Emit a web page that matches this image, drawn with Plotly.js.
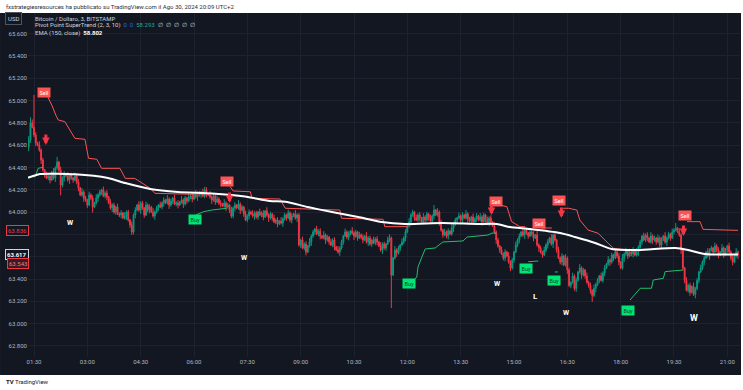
<!DOCTYPE html>
<html><head><meta charset="utf-8">
<script src="https://cdn.plot.ly/plotly-3.0.1.min.js"></script>
<style>html,body{margin:0;padding:0;background:#fff;}#chart{width:743px;height:390px;}</style>
</head><body><div id="chart"></div>
<script>
const dayDate = '2024-08-30';
const firstBar = '01:21';
const barMinutes = 3;

const open = [
64580,64646,64800,64760,64690,64620,64600,64556,64466,64377,
64332,64305,64323,64287,64359,64305,64395,64448,64377,64242,
64305,64341,64323,64287,64332,64305,64287,64323,64269,64216,
64153,64180,64126,64108,64063,64153,64126,64045,64081,64126,
64153,64180,64198,64144,64171,64135,64081,64036,64063,64000,
64045,63983,63974,63992,63947,63965,64000,63929,63884,63821,
63974,64018,64063,64018,64081,64036,63974,64063,64018,64045,
64000,63965,64000,64036,64063,64045,64081,64108,64081,64117,
64063,64099,64126,64072,64081,64063,64090,64108,64072,64126,
64099,64135,64144,64117,64162,64135,64171,64153,64180,64144,
64198,64162,64153,64135,64108,64144,64090,64117,64081,64072,
64054,64081,64045,64063,64018,63965,64036,64063,64036,64072,
64018,64045,63983,63929,63965,64000,63983,63965,63992,63956,
64000,63974,63992,63956,64009,63974,63947,63983,63947,63911,
63929,63893,63920,63902,63938,63974,63947,63992,63929,63965,
63983,63947,63974,63705,63750,63678,63714,63642,63696,63732,
63785,63821,63848,63803,63830,63785,63768,63794,63750,63776,
63732,63705,63750,63687,63660,63642,63678,63732,63785,63821,
63776,63803,63830,63812,63785,63821,63768,63794,63776,63750,
63785,63732,63768,63714,63750,63723,63759,63732,63696,63660,
63714,63678,63714,63750,63768,63436,63588,63660,63633,63678,
63705,63732,63768,63821,63875,63911,63974,64000,63947,63929,
63974,63947,63911,63956,63929,63983,63947,63920,63965,64018,
63974,64000,63911,63839,63794,63821,63785,63830,63803,63857,
63893,63929,63947,63965,63929,63974,63947,63983,63938,63920,
63956,63911,63938,63965,63929,63956,63911,63974,63929,63893,
63947,63911,63875,63821,63750,63696,63660,63624,63588,63642,
63606,63552,63499,63570,63642,63705,63750,63785,63821,63794,
63839,63812,63785,63821,63803,63768,63794,63705,63678,63642,
63615,63660,63705,63732,63768,63714,63794,63750,63660,63588,
63552,63606,63526,63588,63481,63342,63369,63427,63315,63387,
63463,63499,63436,63481,63427,63369,63342,63298,63253,63315,
63351,63387,63427,63387,63454,63499,63535,63570,63552,63615,
63588,63642,63606,63552,63499,63588,63624,63660,63606,63642,
63624,63660,63615,63642,63687,63732,63785,63750,63794,63768,
63732,63785,63750,63768,63732,63768,63705,63750,63785,63732,
63768,63803,63768,63821,63839,63857,63821,63794,63660,63499,
63387,63298,63342,63280,63333,63262,63315,63387,63463,63499,
63552,63588,63642,63606,63660,63678,63642,63696,63660,63615,
63642,63678,63624,63660,63696,63642,63588,63552,63606,63642];

const high = [
64680,64850,64830,65050,64715,64630,64635,64571,64486,64387,
64362,64338,64348,64369,64394,64410,64495,64458,64407,64320,
64366,64351,64358,64347,64352,64315,64353,64338,64294,64226,
64215,64195,64146,64118,64183,64168,64151,64091,64161,64168,
64200,64208,64228,64186,64196,64145,64116,64078,64083,64055,
64075,63998,64017,64002,64000,64015,64020,63939,63914,63989,
64043,64073,64098,64096,64101,64046,64093,64078,64070,64055,
64035,64015,64056,64073,64093,64096,64133,64118,64152,64132,
64119,64136,64156,64096,64106,64100,64143,64123,64146,64136,
64165,64159,64169,64172,64197,64186,64191,64190,64210,64225,
64223,64172,64188,64150,64164,64154,64147,64132,64106,64082,
64116,64096,64083,64073,64048,64051,64088,64073,64107,64087,
64065,64055,64013,63980,64025,64010,64018,64007,64012,64010,
64030,64007,64017,64019,64044,63989,64003,63993,63977,63944,
63954,63930,63955,63953,63994,63984,64022,64007,63990,63993,
64018,63989,63990,63760,63780,63729,63739,63706,63767,63800,
63841,63858,63878,63845,63855,63795,63829,63809,63796,63786,
63762,63765,63775,63697,63695,63693,63752,63795,63851,63836,
63828,63840,63865,63827,63841,63831,63824,63809,63801,63795,
63820,63783,63788,63760,63780,63774,63784,63742,63731,63729,
63734,63724,63780,63800,63780,63598,63695,63675,63698,63715,
63762,63783,63846,63885,63946,63989,64020,64010,63977,63989,
63999,63957,63991,63971,64003,63993,63977,63980,64063,64028,
64035,64015,63931,63849,63851,63836,63855,63840,63892,63908,
63949,63957,63995,63980,63999,63984,64018,63998,63958,63966,
63986,63953,63990,63975,63991,63971,63994,63984,63959,63962,
63972,63921,63910,63836,63770,63706,63690,63639,63667,63652,
63641,63567,63590,63652,63735,63765,63810,63831,63856,63854,
63859,63822,63851,63836,63828,63804,63829,63720,63698,63652,
63690,63720,63757,63778,63803,63809,63814,63760,63690,63603,
63631,63616,63623,63603,63501,63379,63457,63442,63412,63473,
63534,63514,63501,63491,63457,63384,63367,63308,63350,63366,
63407,63437,63457,63469,63524,63545,63605,63585,63635,63625,
63672,63657,63631,63562,63623,63639,63680,63670,63672,63657,
63685,63670,63677,63702,63752,63795,63815,63809,63819,63778,
63820,63800,63788,63778,63798,63783,63775,63795,63820,63783,
63823,63813,63851,63854,63902,63867,63856,63809,63680,63509,
63417,63357,63367,63343,63368,63330,63407,63473,63529,63567,
63613,63652,63677,63675,63698,63688,63726,63711,63685,63652,
63713,63693,63680,63706,63726,63657,63613,63616,63677,63657];

const low = [
64545,64621,64750,64670,64590,64590,64541,64431,64362,64307,
64295,64285,64257,64277,64290,64270,64380,64352,64150,64222,
64275,64313,64272,64252,64290,64262,64277,64249,64186,64143,
64138,64091,64093,64038,64053,64106,63995,64035,64066,64091,
64138,64155,64134,64124,64105,64071,64021,64001,63985,63975,
63973,63954,63944,63937,63932,63930,63914,63859,63795,63801,
63944,64008,64003,63983,64021,63949,63964,63998,63988,63990,
63950,63930,63985,64011,64035,64025,64051,64071,64066,64028,
64048,64074,64062,64052,64033,64053,64075,64037,64057,64074,
64089,64115,64087,64107,64120,64100,64138,64128,64134,64124,
64132,64143,64120,64073,64093,64065,64080,64061,64042,64044,
64039,64010,64030,63993,63945,63945,64006,64026,64021,63983,
64003,63958,63919,63909,63935,63973,63950,63930,63941,63931,
63964,63954,63926,63946,63959,63912,63932,63922,63901,63891,
63863,63883,63887,63867,63923,63922,63937,63909,63899,63955,
63932,63912,63690,63680,63668,63658,63612,63632,63681,63697,
63770,63796,63793,63783,63755,63758,63753,63715,63735,63707,
63695,63685,63657,63650,63627,63607,63663,63707,63775,63756,
63746,63793,63797,63750,63770,63743,63758,63756,63720,63740,
63717,63697,63699,63689,63713,63703,63702,63686,63645,63625,
63663,63653,63704,63730,63140,63426,63573,63598,63618,63653,
63695,63712,63738,63811,63860,63876,63959,63922,63919,63909,
63917,63901,63896,63894,63914,63922,63910,63900,63935,63964,
63959,63876,63824,63769,63784,63765,63755,63793,63788,63822,
63878,63904,63937,63909,63899,63937,63932,63903,63905,63895,
63901,63891,63908,63919,63914,63876,63896,63904,63883,63873,
63881,63865,63806,63715,63681,63635,63614,63568,63558,63596,
63537,63470,63484,63545,63632,63685,63720,63775,63779,63759,
63797,63760,63775,63783,63738,63758,63690,63643,63627,63590,
63605,63640,63675,63722,63699,63679,63735,63635,63578,63532,
63522,63516,63511,63446,63327,63317,63359,63295,63285,63377,
63448,63401,63421,63402,63359,63322,63268,63195,63238,63280,
63336,63362,63377,63367,63424,63489,63520,63517,63537,63563,
63578,63586,63522,63489,63484,63553,63609,63581,63596,63604,
63594,63605,63600,63607,63672,63707,63740,63730,63738,63722,
63717,63715,63735,63707,63722,63685,63675,63740,63717,63697,
63753,63743,63758,63801,63827,63811,63779,63625,63484,63362,
63288,63278,63250,63270,63247,63227,63300,63362,63453,63479,
63522,63578,63591,63571,63645,63617,63632,63640,63585,63605,
63627,63589,63609,63635,63632,63568,63522,63542,63591,63580];

const close = [
64646,64800,64760,64690,64620,64600,64556,64466,64377,64332,
64305,64323,64287,64359,64305,64395,64448,64377,64242,64305,
64341,64323,64287,64332,64305,64287,64323,64269,64216,64153,
64180,64126,64108,64063,64153,64126,64045,64081,64126,64153,
64180,64198,64144,64171,64135,64081,64036,64063,64000,64045,
63983,63974,63992,63947,63965,64000,63929,63884,63821,63974,
64018,64063,64018,64081,64036,63974,64063,64018,64045,64000,
63965,64000,64036,64063,64045,64081,64108,64081,64117,64063,
64099,64126,64072,64081,64063,64090,64108,64072,64126,64099,
64135,64144,64117,64162,64135,64171,64153,64180,64144,64198,
64162,64153,64135,64108,64144,64090,64117,64081,64072,64054,
64081,64045,64063,64018,63965,64036,64063,64036,64072,64018,
64045,63983,63929,63965,64000,63983,63965,63992,63956,64000,
63974,63992,63956,64009,63974,63947,63983,63947,63911,63929,
63893,63920,63902,63938,63974,63947,63992,63929,63965,63983,
63947,63974,63705,63750,63678,63714,63642,63696,63732,63785,
63821,63848,63803,63830,63785,63768,63794,63750,63776,63732,
63705,63750,63687,63660,63642,63678,63732,63785,63821,63776,
63803,63830,63812,63785,63821,63768,63794,63776,63750,63785,
63732,63768,63714,63750,63723,63759,63732,63696,63660,63714,
63678,63714,63750,63768,63436,63588,63660,63633,63678,63705,
63732,63768,63821,63875,63911,63974,64000,63947,63929,63974,
63947,63911,63956,63929,63983,63947,63920,63965,64018,63974,
64000,63911,63839,63794,63821,63785,63830,63803,63857,63893,
63929,63947,63965,63929,63974,63947,63983,63938,63920,63956,
63911,63938,63965,63929,63956,63911,63974,63929,63893,63947,
63911,63875,63821,63750,63696,63660,63624,63588,63642,63606,
63552,63499,63570,63642,63705,63750,63785,63821,63794,63839,
63812,63785,63821,63803,63768,63794,63705,63678,63642,63615,
63660,63705,63732,63768,63714,63794,63750,63660,63588,63552,
63606,63526,63588,63481,63342,63369,63427,63315,63387,63463,
63499,63436,63481,63427,63369,63342,63298,63253,63315,63351,
63387,63427,63387,63454,63499,63535,63570,63552,63615,63588,
63642,63606,63552,63499,63588,63624,63660,63606,63642,63624,
63660,63615,63642,63687,63732,63785,63750,63794,63768,63732,
63785,63750,63768,63732,63768,63705,63750,63785,63732,63768,
63803,63768,63821,63839,63857,63821,63794,63660,63499,63387,
63298,63342,63280,63333,63262,63315,63387,63463,63499,63552,
63588,63642,63606,63660,63678,63642,63696,63660,63615,63642,
63678,63624,63660,63696,63642,63588,63552,63606,63642,63615];

// EMA (150, close)
const emaTimes = ['01:20','01:40','02:39','03:35','04:04','04:46','05:33','06:30','07:26','08:08','08:34','09:12','09:53','10:37','11:17','11:56','13:00','13:58','14:31','14:53','15:27','16:18','16:43','17:17','17:45','18:29','19:32','19:54','20:22','21:18'];
const emaValues = [64308,64341,64338,64305,64260,64207,64180,64166,64139,64099,64093,64045,64000,63956,63911,63893,63902,63893,63893,63866,63848,63812,63776,63723,63669,63660,63678,63660,63624,63620];

// Pivot Point SuperTrend, down-trend (red) and up-trend (green) segments; null = break
const stRedTimes = ['01:53','02:00','02:08','02:11','02:22','02:39','02:56','03:02','03:16','03:24','03:55','04:04','04:20','04:29','04:46','04:54','06:00',null,
 '07:01','07:06','07:35','07:38','08:25','08:34','10:06','10:09','11:19','11:22','12:00',null,
 '14:36','14:48','14:56','15:10','15:19',null,
 '15:47','16:04',null,
 '16:23','16:32','16:46','16:51','17:05','17:22','17:39','17:48','18:02','18:09',null,
 '19:52','20:14','20:19','21:18'];
const stRedValues = [65034,64959,64854,64825,64810,64661,64652,64482,64473,64392,64392,64302,64302,64272,64213,64168,64159,null,
 64227,64189,64182,64123,64117,64034,64018,63944,63935,63869,63869,null,
 64063,64048,63914,63869,63869,null,
 63857,63857,null,
 64034,64034,64018,63929,63839,63810,63720,63675,63666,63666,null,
 63914,63914,63845,63836];
const stGreenTimes = ['01:20','01:32','01:37','01:45',null,
 '06:03','06:16','06:30','06:55',null,
 '12:06','12:16','12:18','12:30','12:47','13:00','13:34','13:41','14:16','14:23','14:30',null,
 '15:24','15:41',null,
 '16:09','16:14',null,
 '18:16','18:21','18:33','18:52','18:55','19:12','19:15','19:46'];
const stGreenValues = [64317,64317,64392,64401,null,
 63974,64003,64018,64034,null,
 63364,63418,63508,63669,63678,63732,63741,63776,63794,63812,63812,null,
 63555,63561,null,
 63463,63463,null,
 63212,63242,63317,63317,63391,63406,63466,63481];

// Signals
const sellTimes = ['01:47','06:55','14:30','15:43','16:16','19:49'];
const sellPrices = [65076,64272,64093,63899,64108,63965];
const buyTimes = ['06:02','12:03','15:21','16:08','18:12'];
const buyPrices = [63929,63364,63496,63391,63116];
const arrowTimes = ['01:50','07:00','14:22','16:20','19:46'];
const arrowPrices = [64601,64081,63974,63947,63785];
const markTimes = ['02:31','07:26','14:33','15:37','16:29','20:03'];
const markPrices = [63902,63588,63355,63239,63096,63051];
const markTexts = ['W','W','W','L','W','W'];
const markSizes = [7,7,7,8,7,9];

// Axis
const xTickTimes = ['01:30','03:00','04:30','06:00','07:30','09:00','10:30','12:00','13:30','15:00','16:30','18:00','19:30','21:00'];
const yTicks = [62800,63000,63200,63400,63600,63800,64000,64200,64400,64600,64800,65000,65200,65400,65600];
// 63.600 and 63.800 sit under the price tags on the scale, as in the picture
const yTickLabels = ['62.800','63.000','63.200','63.400','','','64.000','64.200','64.400','64.600','64.800','65.000','65.200','65.400','65.600'];
const priceTagValues = [63836,63617,63543];
const priceTagLabels = ['63.836','63.617','63.543'];

// ---- build ----
const at = hm => hm === null ? null : dayDate + ' ' + hm;
const [fh, fm] = firstBar.split(':').map(Number);
const t0 = Date.UTC(2024, 7, 30, fh, fm);
const times = close.map((_, i) => new Date(t0 + i * barMinutes * 60000).toISOString().slice(0, 16).replace('T', ' '));

const FONT = 'Roboto, "Liberation Sans", sans-serif';
const BG = '#131722';

const traces = [
  {type:'candlestick', x:times, open:open, high:high, low:low, close:close,
   increasing:{line:{color:'#089981', width:1}, fillcolor:'#089981'},
   decreasing:{line:{color:'#f23645', width:1}, fillcolor:'#f23645'},
   whiskerwidth:0, hoverinfo:'skip', showlegend:false},
  {type:'scatter', mode:'lines', x:stRedTimes.map(at), y:stRedValues, connectgaps:false,
   line:{color:'#ff5252', width:1}, hoverinfo:'skip', showlegend:false},
  {type:'scatter', mode:'lines', x:stGreenTimes.map(at), y:stGreenValues, connectgaps:false,
   line:{color:'#1fbf6a', width:1}, hoverinfo:'skip', showlegend:false},
  {type:'scatter', mode:'lines', x:emaTimes.map(at), y:emaValues,
   line:{color:'#ffffff', width:2, shape:'spline', smoothing:0.6}, hoverinfo:'skip', showlegend:false}
];

const ann = [];
sellTimes.forEach((t, i) => ann.push({x:at(t), y:sellPrices[i], xref:'x', yref:'y', text:'Sell', showarrow:false,
  font:{family:FONT, size:5.5, color:'#ffffff'}, bgcolor:'#ff5252', borderpad:1.5}));
buyTimes.forEach((t, i) => ann.push({x:at(t), y:buyPrices[i], xref:'x', yref:'y', text:'Buy', showarrow:false,
  font:{family:FONT, size:5.5, color:'#0d3b22'}, bgcolor:'#00e676', borderpad:1.5}));
arrowTimes.forEach((t, i) => ann.push({x:at(t), y:arrowPrices[i], xref:'x', yref:'y', text:'', showarrow:true,
  ax:0, ay:-12, arrowcolor:'#f23645', arrowwidth:3, arrowhead:2, arrowsize:0.5, standoff:0}));
markTimes.forEach((t, i) => ann.push({x:at(t), y:markPrices[i], xref:'x', yref:'y', text:'<b>' + markTexts[i] + '</b>', showarrow:false,
  font:{family:FONT, size:markSizes[i], color:'#ffffff'}}));

// price tags on the scale
const tagStyles = [
  {color:'#f23645', bg:BG, border:'#f23645'},
  {color:'#ffffff', bg:BG, border:'#d1d4dc'},
  {color:'#f77c80', bg:'#3b1a22', border:'#f23645'}
];
priceTagValues.forEach((v, i) => ann.push({x:0.0014, xref:'paper', xanchor:'right', y:v, yref:'y', text:(i===1?'<b>'+priceTagLabels[i]+'</b>':priceTagLabels[i]),
  showarrow:false, font:{family:FONT, size:6, color:tagStyles[i].color}, bgcolor:tagStyles[i].bg,
  bordercolor:tagStyles[i].border, borderwidth:1, borderpad:1}));

// legend / header texts
const sp = '\u00a0\u00a0';
ann.push({x:0.007, y:0.9846, xref:'paper', yref:'paper', xanchor:'left', yanchor:'middle', showarrow:false,
  text:'Bitcoin / Dollaro, 3, BITSTAMP', font:{family:FONT, size:6, color:'#d1d4dc'}});
ann.push({x:0.007, y:0.9637, xref:'paper', yref:'paper', xanchor:'left', yanchor:'middle', showarrow:false,
  text:'Pivot Point SuperTrend (2, 3, 10)' + sp + '<span style="color:#2962ff">0</span>' + sp + '<span style="color:#2962ff">0</span>' + sp +
       '<span style="color:#22ab94">58.293</span>' + sp + '\u2205' + sp + '\u2205' + sp + '\u2205' + sp + '\u2205' + sp + '\u2205',
  font:{family:FONT, size:6, color:'#d1d4dc'}});
ann.push({x:0.007, y:0.9419, xref:'paper', yref:'paper', xanchor:'left', yanchor:'middle', showarrow:false,
  text:'EMA (150, close)' + sp + '<span style="color:#ffffff"><b>58.802</b></span>', font:{family:FONT, size:6, color:'#d1d4dc'}});
ann.push({x:-0.0197, y:0.9826, xref:'paper', yref:'paper', xanchor:'center', yanchor:'middle', showarrow:false,
  text:'USD', font:{family:FONT, size:6, color:'#d1d4dc'}, bgcolor:BG, bordercolor:'#50535e', borderwidth:1, borderpad:2});
ann.push({x:-0.0337, y:1.0203, xref:'paper', yref:'paper', xanchor:'left', yanchor:'middle', showarrow:false,
  text:'fxstrategiesresources ha pubblicato su TradingView.com il Ago 30, 2024 20:09 UTC+2', font:{family:FONT, size:6, color:'#2a2e39'}});
ann.push({x:-0.0337, y:-0.0698, xref:'paper', yref:'paper', xanchor:'left', yanchor:'middle', showarrow:false,
  text:'<b>TV</b> TradingView', font:{family:FONT, size:6, color:'#131722'}});

const layout = {
  width:743, height:390, autosize:false,
  margin:{l:28, r:3, t:13, b:33, pad:0},
  paper_bgcolor:'#ffffff', plot_bgcolor:BG,
  showlegend:false, dragmode:false,
  shapes:[{type:'rect', xref:'paper', yref:'paper', x0:-0.0393, x1:1.0014, y0:-0.0523, y1:1.0,
           fillcolor:BG, line:{width:0}, layer:'below'}],
  xaxis:{type:'date', range:[at('01:19:52'), at('21:21:24')], rangeslider:{visible:false},
         tickvals:xTickTimes.map(at), ticktext:xTickTimes, tickfont:{family:FONT, size:6, color:'#b2b5be'},
         gridcolor:'#1e2230', gridwidth:1, showline:false, zeroline:false, ticks:'', fixedrange:true},
  yaxis:{range:[62701, 65784], tickvals:yTicks, ticktext:yTickLabels, side:'left',
         tickfont:{family:FONT, size:6, color:'#b2b5be'}, gridcolor:'#1e2230', gridwidth:1,
         showline:false, zeroline:false, ticks:'', fixedrange:true},
  annotations:ann
};

Plotly.newPlot('chart', traces, layout, {staticPlot:true, displayModeBar:false});
</script>
</body></html>
